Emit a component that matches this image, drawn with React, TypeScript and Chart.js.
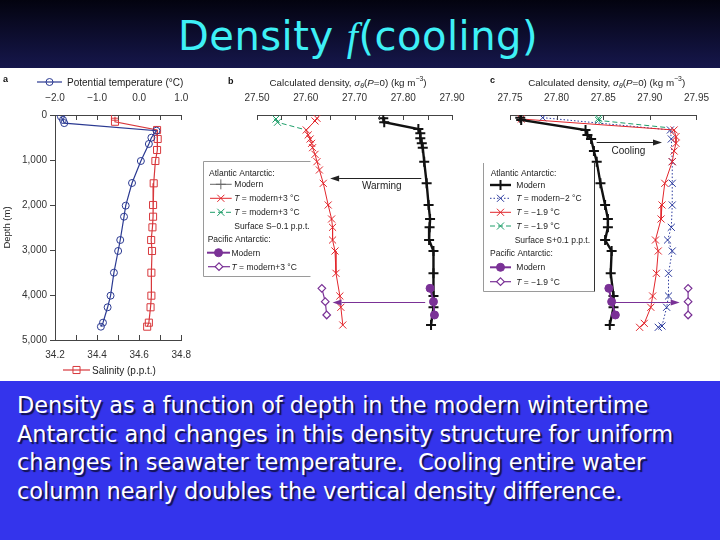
import React, { useEffect, useRef } from "react";
import { Chart, registerables } from "chart.js";

Chart.register(...registerables);

const FONT = "'Liberation Sans', Arial, Helvetica, sans-serif";
const AX = "#444";
const TXT = "#222";

// ---------- Panel a: potential temperature & salinity vs depth ----------
const tempDepth = [35, 110, 180, 349, 504, 644, 1022, 1511, 2015, 2260, 2778, 3022, 3504, 4015, 4273, 4615, 4704];
const tempValue = [-1.86, -1.81, -1.78, 0.41, 0.29, 0.23, 0.04, -0.17, -0.32, -0.36, -0.45, -0.5, -0.6, -0.68, -0.75, -0.86, -0.91];
const salDepth = [37, 150, 333, 533, 778, 1022, 1518, 2000, 2260, 2496, 2778, 3022, 3504, 4015, 4273, 4615, 4704];
const salValue = [34.485, 34.485, 34.685, 34.688, 34.685, 34.677, 34.669, 34.666, 34.666, 34.663, 34.657, 34.661, 34.658, 34.658, 34.654, 34.646, 34.638];

// ---------- Panel b: warming ----------
const bModernDepth = [73, 162, 311, 407, 518, 630, 726, 1037, 1518, 2000, 2311, 2496, 2778, 3022, 3518, 4022, 4273, 4667];
const bModernDens = [27.759, 27.761, 27.831, 27.835, 27.835, 27.838, 27.84, 27.843, 27.848, 27.852, 27.855, 27.854, 27.853, 27.862, 27.862, 27.862, 27.862, 27.857];
const bWarmDepth = [73, 133, 333, 444, 533, 630, 726, 874, 1037, 1222, 1518, 2000, 2311, 2496, 2778, 3022, 3518, 4022, 4273, 4667];
const bWarmDens = [27.623, 27.619, 27.601, 27.605, 27.609, 27.612, 27.614, 27.619, 27.623, 27.628, 27.636, 27.646, 27.653, 27.655, 27.655, 27.66, 27.662, 27.67, 27.672, 27.676];
const bFreshDepth = [89, 162, 333];
const bFreshDens = [27.539, 27.542, 27.601];
const bPacDepth = [3852, 4148, 4444];
const bPacModernDens = [27.855, 27.862, 27.864];
const bPacWarmDens = [27.633, 27.64, 27.643];

// ---------- Panel c: cooling ----------
const cModernDepth = [60, 111, 333, 444, 533, 800, 1037, 1518, 2000, 2311, 2496, 2778, 3022, 3518, 4022, 4273, 4667];
const cModernDens = [27.761, 27.762, 27.831, 27.833, 27.837, 27.84, 27.843, 27.847, 27.852, 27.855, 27.855, 27.852, 27.859, 27.858, 27.861, 27.861, 27.857];
const cMinus2Depth = [59, 333, 533, 1037, 1518, 2000, 2496, 2778, 3022, 3518, 4022, 4273, 4689, 4718];
const cMinus2Dens = [27.785, 27.922, 27.923, 27.924, 27.924, 27.924, 27.923, 27.919, 27.924, 27.92, 27.92, 27.918, 27.913, 27.909];
const cFreezeDepth = [89, 333, 481, 630, 800, 1037, 1518, 2000, 2311, 2778, 3022, 3518, 4022, 4273, 4630, 4718];
const cFreezeDens = [27.762, 27.926, 27.928, 27.928, 27.926, 27.924, 27.916, 27.913, 27.912, 27.906, 27.909, 27.907, 27.903, 27.901, 27.894, 27.889];
const cSaltDepth = [73, 120, 281];
const cSaltDens = [27.845, 27.845, 27.919];
const cPacDepth = [3852, 4148, 4444];
const cPacModernDens = [27.856, 27.859, 27.863];
const cPacColdDens = [27.941, 27.941, 27.941];

// ---------- Tick labels ----------
const depthTicks = [0, 1000, 2000, 3000, 4000, 5000];
const depthTickLabels = ["0", "1,000", "2,000", "3,000", "4,000", "5,000"];
const tempTicks = [-2, -1, 0, 1];
const tempTickLabels = ["\u22122.0", "\u22121.0", "0.0", "1.0"];
const salTicks = [34.2, 34.4, 34.6, 34.8];
const salTickLabels = ["34.2", "34.4", "34.6", "34.8"];
const densBTicks = [27.5, 27.6, 27.7, 27.8, 27.9];
const densBTickLabels = ["27.50", "27.60", "27.70", "27.80", "27.90"];
const densCTicks = [27.75, 27.8, 27.85, 27.9, 27.95];
const densCTickLabels = ["27.75", "27.80", "27.85", "27.90", "27.95"];

// ---------- Annotations (data units) ----------
const warmArrow = { depth: 1393, from: 27.837, to: 27.65 };
const warmLabel = { depth: 1571, dens: 27.756, text: "Warming" };
const pacArrowB = { depth: 4148, from: 27.845, to: 27.655 };
const coolArrow = { depth: 593, from: 27.843, to: 27.913 };
const coolLabel = { depth: 778, dens: 27.877, text: "Cooling" };
const pacArrowC = { depth: 4148, from: 27.861, to: 27.932 };

type Mark = { color: string; lw: number; dash?: number[]; marker: string; r: number; mlw: number; fill?: string };

const mTemp: Mark = { color: "#2b3a92", lw: 1.2, marker: "circle", r: 3.5, mlw: 1 };
const mSal: Mark = { color: "#d8383c", lw: 1.2, marker: "rect", r: 5, mlw: 1 };
const mModern: Mark = { color: "#111", lw: 2.4, marker: "cross", r: 5, mlw: 2 };
const mModernLegB: Mark = { color: "#666", lw: 1, marker: "cross", r: 5, mlw: 1 };
const mRed: Mark = { color: "#e2262c", lw: 1, marker: "crossRot", r: 5, mlw: 1 };
const mGreen: Mark = { color: "#1f9e6a", lw: 1, dash: [5, 3], marker: "crossRot", r: 5, mlw: 1 };
const mBlue: Mark = { color: "#2c3b9e", lw: 1, dash: [1.5, 2], marker: "crossRot", r: 5, mlw: 1 };
const mPacModern: Mark = { color: "#7a3196", lw: 2, marker: "circle", r: 4, mlw: 1, fill: "#7a3196" };
const mPacAlt: Mark = { color: "#7a3196", lw: 1.2, marker: "rectRot", r: 3.8, mlw: 1.2, fill: "#fff" };

function series(depths: number[], vals: number[], m: Mark, extra: any = {}) {
  return {
    data: depths.map((d, i) => ({ x: vals[i], y: d })),
    showLine: true,
    borderColor: m.color,
    borderWidth: m.lw,
    borderDash: m.dash || [],
    pointStyle: m.marker,
    pointRadius: m.r,
    pointHoverRadius: m.r,
    pointBorderColor: m.color,
    pointBorderWidth: m.mlw,
    pointBackgroundColor: m.fill || "rgba(0,0,0,0)",
    tension: 0,
    ...extra,
  };
}

function labelFor(ticks: number[], labels: string[]) {
  return (v: any) => {
    const n = Number(v);
    const i = ticks.findIndex((t) => Math.abs(t - n) < 1e-6);
    return i >= 0 ? labels[i] : "";
  };
}

const tickFont = { family: FONT, size: 10 };

function hAxis(position: string, min: number, max: number, step: number, ticks: number[], labels: string[], height: number, pad: number) {
  return {
    type: "linear",
    position,
    min,
    max,
    ticks: { stepSize: step, autoSkip: false, maxRotation: 0, minRotation: 0, padding: pad, color: "#333", font: tickFont, callback: labelFor(ticks, labels) },
    grid: { display: false, drawTicks: false },
    border: { color: AX, width: 1 },
    afterFit: (s: any) => {
      s.height = height;
    },
  };
}

function depthAxis(show: boolean) {
  const axis: any = {
    type: "linear",
    position: "left",
    reverse: true,
    min: 0,
    max: 5000,
    display: show,
    ticks: { stepSize: 1000, autoSkip: false, padding: 3, color: "#333", font: tickFont, callback: labelFor(depthTicks, depthTickLabels) },
    grid: { drawOnChartArea: false, drawTicks: true, tickLength: 5, color: AX },
    border: { color: AX },
    title: { display: show, text: "Depth (m)", color: TXT, font: { family: FONT, size: 9.5 }, padding: { top: 2, bottom: 0 } },
  };
  if (show) {
    axis.afterFit = (s: any) => {
      s.width = 55;
    };
  }
  return axis;
}

function inwardTicks(ids: string[], len = 5) {
  return {
    id: "inwardTicks",
    afterDraw(chart: any) {
      const ctx = chart.ctx;
      ctx.save();
      ctx.strokeStyle = AX;
      ctx.lineWidth = 1;
      ids.forEach((id) => {
        const s = chart.scales[id];
        const top = s.position === "top";
        const y0 = top ? s.bottom : s.top;
        s.ticks.forEach((t: any) => {
          const x = Math.round(s.getPixelForValue(t.value)) + 0.5;
          ctx.beginPath();
          ctx.moveTo(x, y0);
          ctx.lineTo(x, top ? y0 + len : y0 - len);
          ctx.stroke();
        });
      });
      ctx.restore();
    },
  };
}

function drawMarker(ctx: any, m: Mark, x: number, y: number) {
  ctx.save();
  ctx.setLineDash([]);
  ctx.strokeStyle = m.color;
  ctx.lineWidth = m.mlw;
  const r = m.r;
  ctx.beginPath();
  if (m.marker === "circle") ctx.arc(x, y, r, 0, Math.PI * 2);
  else if (m.marker === "rect") {
    const s = r * Math.SQRT1_2;
    ctx.rect(x - s, y - s, 2 * s, 2 * s);
  } else if (m.marker === "rectRot") {
    ctx.moveTo(x - r, y);
    ctx.lineTo(x, y - r);
    ctx.lineTo(x + r, y);
    ctx.lineTo(x, y + r);
    ctx.closePath();
  } else if (m.marker === "cross") {
    ctx.moveTo(x, y - r);
    ctx.lineTo(x, y + r);
    ctx.moveTo(x - r, y);
    ctx.lineTo(x + r, y);
  } else {
    const o = r * Math.SQRT1_2;
    ctx.moveTo(x - o, y - o);
    ctx.lineTo(x + o, y + o);
    ctx.moveTo(x + o, y - o);
    ctx.lineTo(x - o, y + o);
  }
  if (m.fill) {
    ctx.fillStyle = m.fill;
    ctx.fill();
  }
  ctx.stroke();
  ctx.restore();
}

function drawSample(ctx: any, x1: number, x2: number, y: number, m: Mark) {
  ctx.save();
  ctx.strokeStyle = m.color;
  ctx.lineWidth = m.lw;
  ctx.setLineDash(m.dash || []);
  ctx.beginPath();
  ctx.moveTo(x1, y);
  ctx.lineTo(x2, y);
  ctx.stroke();
  ctx.restore();
  drawMarker(ctx, m, (x1 + x2) / 2, y);
}

type Seg = { t: string; i?: boolean; sub?: boolean; sup?: boolean };

function richText(ctx: any, segs: Seg[], x: number, y: number, size: number, align: string, color = TXT) {
  const fontFor = (s: Seg) => `${s.i ? "italic " : ""}${s.sub || s.sup ? size * 0.7 : size}px ${FONT}`;
  let w = 0;
  segs.forEach((s) => {
    ctx.font = fontFor(s);
    w += ctx.measureText(s.t).width;
  });
  let cx = align === "center" ? x - w / 2 : x;
  ctx.save();
  ctx.fillStyle = color;
  ctx.textAlign = "left";
  ctx.textBaseline = "alphabetic";
  const base = y + size * 0.36;
  segs.forEach((s) => {
    ctx.font = fontFor(s);
    const dy = s.sub ? size * 0.25 : s.sup ? -size * 0.42 : 0;
    ctx.fillText(s.t, cx, base + dy);
    cx += ctx.measureText(s.t).width;
  });
  ctx.restore();
}

function arrow(ctx: any, x1: number, x2: number, y: number, color: string) {
  const head = 9;
  const hw = 3;
  const dir = Math.sign(x2 - x1);
  ctx.save();
  ctx.strokeStyle = color;
  ctx.fillStyle = color;
  ctx.lineWidth = 1;
  ctx.beginPath();
  ctx.moveTo(x1, y);
  ctx.lineTo(x2 - dir * head, y);
  ctx.stroke();
  ctx.beginPath();
  ctx.moveTo(x2, y);
  ctx.lineTo(x2 - dir * head, y - hw);
  ctx.lineTo(x2 - dir * head, y + hw);
  ctx.closePath();
  ctx.fill();
  ctx.restore();
}

function panelLetter(ctx: any, t: string, x: number, y: number) {
  ctx.save();
  ctx.fillStyle = "#111";
  ctx.font = `bold 9px ${FONT}`;
  ctx.textBaseline = "middle";
  ctx.textAlign = "left";
  ctx.fillText(t, x, y);
  ctx.restore();
}

const densTitle: Seg[] = [
  { t: "Calculated density, " },
  { t: "\u03c3", i: true },
  { t: "\u03b8", i: true, sub: true },
  { t: "(" },
  { t: "P", i: true },
  { t: "=0) (kg m" },
  { t: "\u22123", sup: true },
  { t: ")" },
];

const LEG = 8.5;

const decoA = {
  id: "decoA",
  afterDraw(chart: any) {
    const ctx = chart.ctx;
    panelLetter(ctx, "a", 3, 12);
    drawSample(ctx, 37, 62, 14, mTemp);
    richText(ctx, [{ t: "Potential temperature (\u00b0C)" }], 67, 14, 10, "left");
    drawSample(ctx, 63, 90, 302, mSal);
    richText(ctx, [{ t: "Salinity (p.p.t.)" }], 92, 302, 10, "left");
  },
};

const decoB = {
  id: "decoB",
  afterDraw(chart: any) {
    const ctx = chart.ctx;
    const xs = chart.scales.x;
    const ys = chart.scales.y;
    panelLetter(ctx, "b", 28, 14);
    richText(ctx, densTitle, 148, 14, 9.8, "center");
    // legend box
    ctx.save();
    ctx.fillStyle = "#fff";
    ctx.fillRect(3.5, 93.5, 107, 115);
    ctx.strokeStyle = "#9a9a9a";
    ctx.lineWidth = 1;
    ctx.beginPath();
    ctx.moveTo(110.5, 93.5);
    ctx.lineTo(3.5, 93.5);
    ctx.lineTo(3.5, 208.5);
    ctx.lineTo(110.5, 208.5);
    ctx.stroke();
    ctx.restore();
    richText(ctx, [{ t: "Atlantic Antarctic:" }], 9, 104.7, LEG, "left");
    drawSample(ctx, 10, 31.7, 116.3, mModernLegB);
    richText(ctx, [{ t: "Modern" }], 34.3, 116.3, LEG, "left");
    drawSample(ctx, 10, 31.7, 130.3, mRed);
    richText(ctx, [{ t: "T", i: true }, { t: " = modern+3 \u00b0C" }], 34.3, 130.3, LEG, "left");
    drawSample(ctx, 10, 31.7, 144.3, mGreen);
    richText(ctx, [{ t: "T", i: true }, { t: " = modern+3 \u00b0C" }], 34.3, 144.3, LEG, "left");
    richText(ctx, [{ t: "Surface S\u22120.1 p.p.t." }], 34.3, 158, LEG, "left");
    richText(ctx, [{ t: "Pacific Antarctic:" }], 7.7, 171.3, LEG, "left");
    drawSample(ctx, 7, 30, 184.7, mPacModern);
    richText(ctx, [{ t: "Modern" }], 31.5, 184.7, LEG, "left");
    drawSample(ctx, 8, 30, 198.7, mPacAlt);
    richText(ctx, [{ t: "T", i: true }, { t: " = modern+3 \u00b0C" }], 31.5, 198.7, LEG, "left");
    // arrows
    arrow(ctx, xs.getPixelForValue(warmArrow.from), xs.getPixelForValue(warmArrow.to), Math.round(ys.getPixelForValue(warmArrow.depth)) + 0.5, "#222");
    richText(ctx, [{ t: warmLabel.text }], xs.getPixelForValue(warmLabel.dens), ys.getPixelForValue(warmLabel.depth), 10, "center");
    arrow(ctx, xs.getPixelForValue(pacArrowB.from), xs.getPixelForValue(pacArrowB.to), Math.round(ys.getPixelForValue(pacArrowB.depth)) + 0.5, "#7a3196");
  },
};

const decoC = {
  id: "decoC",
  afterDraw(chart: any) {
    const ctx = chart.ctx;
    const xs = chart.scales.x;
    const ys = chart.scales.y;
    panelLetter(ctx, "c", 10, 13);
    richText(ctx, densTitle, 126.7, 14, 9.8, "center");
    ctx.save();
    ctx.fillStyle = "#fff";
    ctx.fillRect(3.5, 95, 111, 128.5);
    ctx.lineWidth = 1;
    ctx.strokeStyle = "#9a9a9a";
    ctx.beginPath();
    ctx.moveTo(3.5, 95);
    ctx.lineTo(3.5, 223.5);
    ctx.lineTo(114.5, 223.5);
    ctx.stroke();
    ctx.strokeStyle = "#333";
    ctx.beginPath();
    ctx.moveTo(114.5, 95);
    ctx.lineTo(114.5, 223.5);
    ctx.stroke();
    ctx.restore();
    richText(ctx, [{ t: "Atlantic Antarctic:" }], 10.7, 105.3, LEG, "left");
    drawSample(ctx, 10, 31, 117, mModern);
    richText(ctx, [{ t: "Modern" }], 36.3, 117, LEG, "left");
    drawSample(ctx, 10, 31, 130.3, mBlue);
    richText(ctx, [{ t: "T", i: true }, { t: " = modern\u22122 \u00b0C" }], 36.3, 130.3, LEG, "left");
    drawSample(ctx, 10, 31, 144.3, mRed);
    richText(ctx, [{ t: "T", i: true }, { t: " = \u22121.9 \u00b0C" }], 36.3, 144.3, LEG, "left");
    drawSample(ctx, 10, 31, 158, mGreen);
    richText(ctx, [{ t: "T", i: true }, { t: " = \u22121.9 \u00b0C" }], 36.3, 158, LEG, "left");
    richText(ctx, [{ t: "Surface S+0.1 p.p.t." }], 34.7, 172, LEG, "left");
    richText(ctx, [{ t: "Pacific Antarctic:" }], 10, 185.3, LEG, "left");
    drawSample(ctx, 10, 31, 199.3, mPacModern);
    richText(ctx, [{ t: "Modern" }], 36.3, 199.3, LEG, "left");
    drawSample(ctx, 10, 31, 213.7, mPacAlt);
    richText(ctx, [{ t: "T", i: true }, { t: " = \u22121.9 \u00b0C" }], 36.3, 213.7, LEG, "left");
    arrow(ctx, xs.getPixelForValue(coolArrow.from), xs.getPixelForValue(coolArrow.to), Math.round(ys.getPixelForValue(coolArrow.depth)) + 0.5, "#222");
    richText(ctx, [{ t: coolLabel.text }], xs.getPixelForValue(coolLabel.dens), ys.getPixelForValue(coolLabel.depth), 10, "center");
    arrow(ctx, xs.getPixelForValue(pacArrowC.from), xs.getPixelForValue(pacArrowC.to), Math.round(ys.getPixelForValue(pacArrowC.depth)) + 0.5, "#7a3196");
  },
};

const baseOptions = (padding: any) => ({
  animation: false,
  responsive: false,
  devicePixelRatio: 1,
  events: [],
  layout: { padding },
  plugins: { legend: { display: false }, tooltip: { enabled: false } },
});

function cfgA(): any {
  return {
    type: "scatter",
    data: {
      datasets: [
        { ...series(tempDepth, tempValue, mTemp), xAxisID: "xT", yAxisID: "y" },
        { ...series(salDepth, salValue, mSal), xAxisID: "xS", yAxisID: "y" },
      ],
    },
    options: {
      ...baseOptions({ left: 0, right: 15, top: 0, bottom: 0 }),
      scales: {
        xT: hAxis("top", -2, 1, 0.5, tempTicks, tempTickLabels, 47, 11),
        xS: hAxis("bottom", 34.2, 34.8, 0.1, salTicks, salTickLabels, 41, 9),
        y: depthAxis(true),
      },
    },
    plugins: [inwardTicks(["xT", "xS"]), decoA],
  };
}

function cfgB(): any {
  return {
    type: "scatter",
    data: {
      datasets: [
        series(bPacDepth, bPacModernDens, mPacModern),
        series(bPacDepth, bPacWarmDens, mPacAlt),
        series(bModernDepth, bModernDens, mModern),
        series(bWarmDepth, bWarmDens, mRed),
        series(bFreshDepth, bFreshDens, mGreen, { pointRadius: [5, 5, 0] }),
      ],
    },
    options: {
      ...baseOptions({ left: 57, right: 28, top: 0, bottom: 41 }),
      scales: {
        x: hAxis("top", 27.5, 27.9, 0.05, densBTicks, densBTickLabels, 47, 11),
        y: depthAxis(false),
      },
    },
    plugins: [inwardTicks(["x"]), decoB],
  };
}

function cfgC(): any {
  return {
    type: "scatter",
    data: {
      datasets: [
        series(cPacDepth, cPacModernDens, mPacModern),
        series(cPacDepth, cPacColdDens, mPacAlt),
        series(cModernDepth, cModernDens, mModern),
        series(cFreezeDepth, cFreezeDens, mRed),
        series(cMinus2Depth, cMinus2Dens, mBlue),
        series(cSaltDepth, cSaltDens, mGreen, { pointRadius: [5, 5, 0] }),
      ],
    },
    options: {
      ...baseOptions({ left: 30, right: 18, top: 0, bottom: 41 }),
      scales: {
        x: hAxis("top", 27.75, 27.95, 0.05, densCTicks, densCTickLabels, 47, 11),
        y: depthAxis(false),
      },
    },
    plugins: [inwardTicks(["x"]), decoC],
  };
}

export default function App() {
  const ra = useRef<HTMLCanvasElement>(null);
  const rb = useRef<HTMLCanvasElement>(null);
  const rc = useRef<HTMLCanvasElement>(null);

  useEffect(() => {
    Chart.defaults.font.family = FONT;
    const charts = [new Chart(ra.current as any, cfgA()), new Chart(rb.current as any, cfgB()), new Chart(rc.current as any, cfgC())];
    return () => charts.forEach((c) => c.destroy());
  }, []);

  const canvasStyle = (left: number): any => ({ position: "absolute", left, top: 68, display: "block" });

  return (
    <div style={{ position: "fixed", left: 0, top: 0, width: 720, height: 540, overflow: "hidden", background: "#3434ec" }}>
      <div style={{ position: "absolute", left: 0, top: 0, width: 720, height: 68, background: "linear-gradient(#03030f, #16174c)" }} />
      <div
        style={{
          position: "absolute",
          left: 178,
          top: 12,
          whiteSpace: "nowrap",
          color: "#3ef0f6",
          fontFamily: "'DejaVu Sans', sans-serif",
          fontSize: 40,
          lineHeight: "48px",
          letterSpacing: 0.5,
        }}
      >
        Density <span style={{ fontFamily: "'Liberation Serif', serif", fontStyle: "italic" }}>f</span>(cooling)
      </div>
      <div style={{ position: "absolute", left: 0, top: 68, width: 720, height: 313, background: "#fff" }} />
      <canvas ref={ra} width={200} height={313} style={canvasStyle(0)} />
      <canvas ref={rb} width={280} height={313} style={canvasStyle(200)} />
      <canvas ref={rc} width={240} height={313} style={canvasStyle(480)} />
      <div
        style={{
          position: "absolute",
          left: 17,
          top: 391,
          color: "#fff",
          fontFamily: "'DejaVu Sans', sans-serif",
          fontSize: 22.4,
          lineHeight: "28.7px",
          whiteSpace: "pre",
          textShadow: "2px 2px 1px #12124a",
        }}
      >
        {"Density as a function of depth in the modern wintertime\nAntarctic and changes in this density structure for uniform\nchanges in seawater temperature.  Cooling entire water\ncolumn nearly doubles the vertical density difference."}
      </div>
    </div>
  );
}
